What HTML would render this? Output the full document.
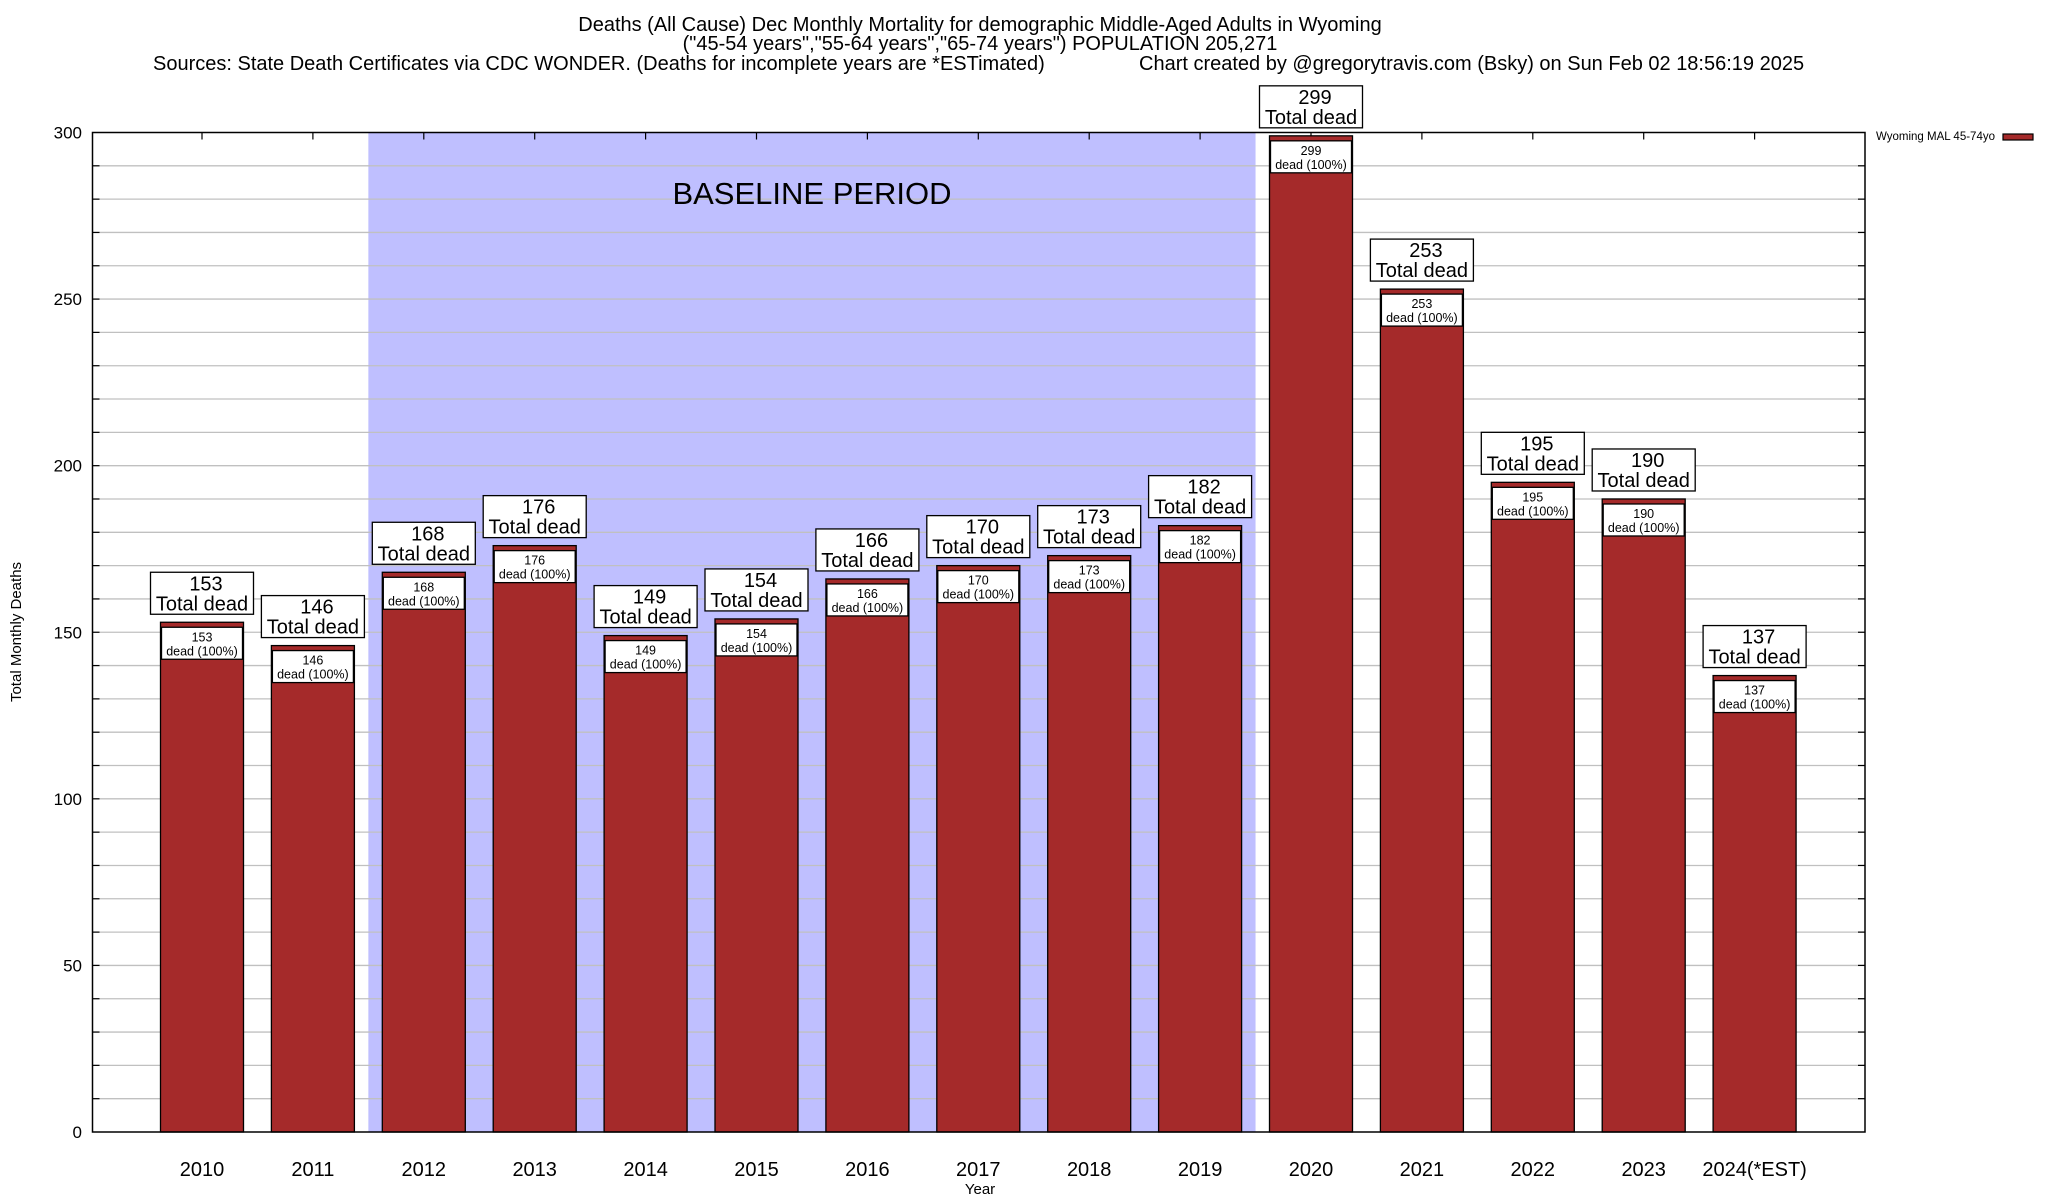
<!DOCTYPE html>
<html><head><meta charset="utf-8"><style>
html,body{margin:0;padding:0;background:#fff;}
svg{display:block;font-family:"Liberation Sans",Arial,sans-serif;}
</style></head><body>
<svg id="chart" width="2048" height="1200" viewBox="0 0 2048 1200" xmlns="http://www.w3.org/2000/svg">
<g font-size="20" text-anchor="middle">
<text x="980" y="31">Deaths (All Cause) Dec Monthly Mortality for demographic Middle-Aged Adults in Wyoming</text>
<text x="980" y="50">("45-54 years","55-64 years","65-74 years") POPULATION 205,271</text>
<text x="153" y="70" text-anchor="start">Sources: State Death Certificates via CDC WONDER. (Deaths for incomplete years are *ESTimated)</text>
<text x="1139" y="70" text-anchor="start">Chart created by @gregorytravis.com (Bsky) on Sun Feb 02 18:56:19 2025</text>
</g>
<g id="plot"></g>
</svg>
<script>
const categories=["2010","2011","2012","2013","2014","2015","2016","2017","2018","2019","2020","2021","2022","2023","2024(*EST)"];
const deaths=[153,146,168,176,149,154,166,170,173,182,299,253,195,190,137];
const yTicks=[0,50,100,150,200,250,300];
const baselineStart=2, baselineEnd=9;
const NS="http://www.w3.org/2000/svg";
const L=92.5,R=1865,T=132.5,B=1132,yMax=300;
const step=110.9, x0=202;
const xc=i=>x0+i*step;
const y=v=>B-(v/yMax)*(B-T);
const g=document.getElementById('plot');
function mk(tag,attrs,parent,text){const e=document.createElementNS(NS,tag);for(const k in attrs)e.setAttribute(k,attrs[k]);if(text!==undefined)e.textContent=text;(parent||g).appendChild(e);return e;}
const bs=mk('rect',{x:xc(baselineStart)-step/2,y:T,width:xc(baselineEnd)-xc(baselineStart)+step,height:B-T,fill:'#bfbfff'});


for(let v=10;v<yMax;v+=10){const ln=mk('line',{x1:L,x2:R,y1:y(v),y2:y(v),stroke:'#c0c0c0','stroke-width':1.3});


mk('line',{x1:L,x2:L+7,y1:y(v),y2:y(v),stroke:'#000','stroke-width':1.2});
mk('line',{x1:R-7,x2:R,y1:y(v),y2:y(v),stroke:'#000','stroke-width':1.2});}
const bl=mk('text',{x:812,y:204,'font-size':31,'text-anchor':'middle'},g,'BASELINE PERIOD');


yTicks.forEach(v=>{const t=mk('text',{x:82,y:y(v)+6,'font-size':17,'text-anchor':'end'},g,String(v));

});
categories.forEach((c,i)=>{
 const cx=xc(i),w=83,top=y(deaths[i]);
 mk('line',{x1:cx,x2:cx,y1:T,y2:T+7,stroke:'#000','stroke-width':1.2});
 const r=mk('rect',{x:cx-w/2,y:top,width:w,height:B-top,fill:'#a52a2a',stroke:'#000','stroke-width':1.3});
 
 
 const ib=mk('rect',{x:cx-w/2+1,y:top+5,width:w-2,height:32,fill:'#fff',stroke:'#000','stroke-width':1.3});
 
 
 mk('text',{x:cx,y:top+19,'font-size':12.5,'text-anchor':'middle'},g,String(deaths[i]));
 mk('text',{x:cx,y:top+33,'font-size':12.5,'text-anchor':'middle'},g,'dead (100%)');
 const ob=mk('rect',{x:cx-51.5,y:top-50,width:103,height:42,fill:'#fff',stroke:'#000','stroke-width':1.3});
 
 
 mk('text',{x:cx+4,y:top-32,'font-size':20,'text-anchor':'middle'},g,String(deaths[i]));
 mk('text',{x:cx,y:top-12,'font-size':20,'text-anchor':'middle'},g,'Total dead');
 const xl=mk('text',{x:cx,y:1176,'font-size':20,'text-anchor':'middle'},g,c);
 
 
});
const fr=mk('rect',{x:L,y:T,width:R-L,height:B-T,fill:'none',stroke:'#000','stroke-width':1.5});


const xt=mk('text',{x:980,y:1194,'font-size':15,'text-anchor':'middle'},g,'Year');


const yt=mk('text',{x:0,y:0,'font-size':15,'text-anchor':'middle',transform:'translate(21,632) rotate(-90)'},g,'Total Monthly Deaths');


const lg=mk('text',{x:1995,y:140,'font-size':11.5,'text-anchor':'end'},g,'Wyoming MAL 45-74yo');


const ls=mk('rect',{x:2003,y:134,width:30,height:6,fill:'#a52a2a',stroke:'#000','stroke-width':1.2});


</script>
</body></html>
